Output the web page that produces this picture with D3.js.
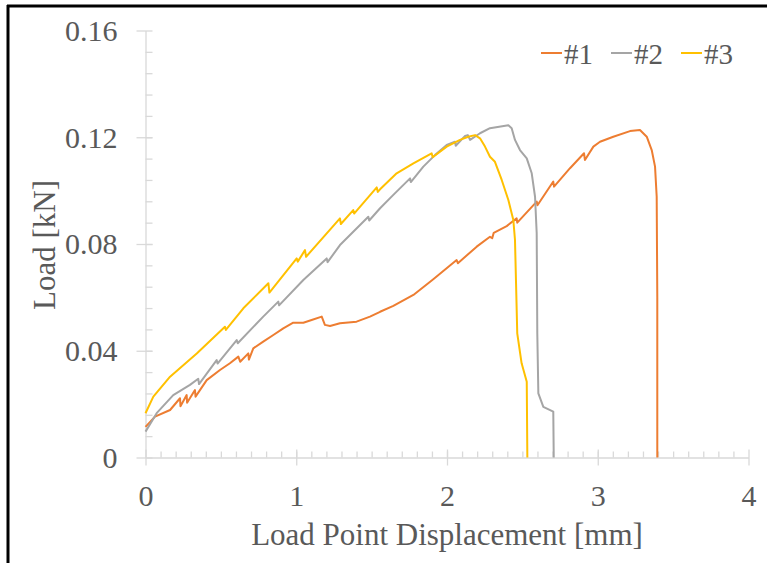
<!DOCTYPE html>
<html>
<head>
<meta charset="utf-8">
<script src="https://cdn.jsdelivr.net/npm/d3@7"></script>
<style>
  body { margin: 0; background: #fff; }
  text { font-family: "Liberation Serif", "Times New Roman", serif; fill: #595959; }
</style>
</head>
<body>
<script>
// load vs. displacement
var series1 = [[0,0.0115],[0.063,0.0153],[0.163,0.0178],[0.229,0.0222],[0.232,0.0192],[0.273,0.0234],[0.276,0.0205],
  [0.328,0.0253],[0.332,0.0228],[0.406,0.029],[0.494,0.0328],[0.56,0.0353],[0.616,0.0378],[0.628,0.0359],[0.682,0.039],
  [0.686,0.0367],[0.715,0.0409],[0.781,0.0434],[0.848,0.0459],[0.914,0.0484],[0.98,0.0505],[1.047,0.0505],[1.102,0.0515],
  [1.169,0.0528],[1.19,0.0497],[1.224,0.0493],[1.29,0.0503],[1.40,0.0509],[1.489,0.0528],[1.556,0.0546],[1.644,0.0568],
  [1.777,0.0609],[1.909,0.0668],[2.064,0.074],[2.072,0.0728],[2.197,0.079],[2.285,0.0827],[2.3,0.0822],[2.31,0.0842],
  [2.396,0.0867],[2.462,0.0896],[2.466,0.0880],[2.595,0.0959],[2.6,0.0945],[2.705,0.1034],[2.71,0.1015],[2.816,0.1084],
  [2.909,0.114],[2.915,0.1115],[2.971,0.1165],[3.015,0.1183],[3.103,0.1202],[3.214,0.1223],[3.28,0.1227],[3.325,0.1202],
  [3.358,0.1152],[3.38,0.109],[3.391,0.0977],[3.395,0.06],[3.395,0]];

var series2 = [[0,0.0097],[0.074,0.0166],[0.184,0.0234],[0.295,0.0272],[0.35,0.0295],[0.355,0.0275],[0.472,0.0365],
  [0.478,0.0352],[0.605,0.044],[0.612,0.0428],[0.781,0.0528],[0.881,0.0584],[0.886,0.057],[1.047,0.0665],[1.202,0.0746],
  [1.208,0.0732],[1.29,0.0796],[1.478,0.0902],[1.484,0.0888],[1.556,0.0934],[1.644,0.0984],[1.755,0.1046],[1.76,0.1032],
  [1.843,0.109],[1.92,0.1133],[1.998,0.1171],[2.053,0.1183],[2.058,0.1168],[2.12,0.1205],[2.138,0.1208],[2.153,0.119],
  [2.219,0.1215],[2.285,0.1234],[2.407,0.1245],[2.429,0.1234],[2.451,0.119],[2.484,0.1152],[2.529,0.1121],[2.562,0.1065],
  [2.584,0.0977],[2.595,0.084],[2.599,0.0465],[2.606,0.024],[2.639,0.019],[2.705,0.0172],[2.708,0]];

var series3 = [[0,0.0166],[0.052,0.0228],[0.163,0.0303],[0.34,0.039],[0.527,0.049],[0.533,0.0478],[0.649,0.0559],
  [0.815,0.0653],[0.822,0.0618],[1.003,0.0746],[1.01,0.0734],[1.058,0.0777],[1.065,0.0752],[1.29,0.0896],[1.296,0.0875],
  [1.378,0.0927],[1.384,0.0914],[1.534,0.1012],[1.541,0.0995],[1.556,0.1005],[1.666,0.1065],[1.777,0.1102],[1.898,0.114],
  [1.905,0.1125],[1.998,0.1165],[2.086,0.119],[2.141,0.1202],[2.186,0.1208],[2.219,0.1196],[2.252,0.1165],[2.285,0.1127],
  [2.318,0.1108],[2.363,0.104],[2.407,0.0965],[2.44,0.089],[2.451,0.0815],[2.458,0.0653],[2.466,0.0465],[2.495,0.0353],
  [2.529,0.0284],[2.533,0]];

var seriesNames = ["#1", "#2", "#3"];
var seriesColors = ["#ED7D31", "#A5A5A5", "#FFC000"];
var xTicks = [0, 1, 2, 3, 4];
var yTicks = [0, 0.04, 0.08, 0.12, 0.16];

var width = 767, height = 563;

var svg = d3.select("body").append("svg")
    .attr("width", width)
    .attr("height", height);

// black frame on the left / top edge
svg.append("line").attr("x1", 8).attr("x2", 8).attr("y1", 5).attr("y2", height)
    .attr("stroke", "#000").attr("stroke-width", 3);
svg.append("line").attr("x1", 7).attr("x2", width).attr("y1", 6).attr("y2", 6)
    .attr("stroke", "#000").attr("stroke-width", 3);

var x = d3.scaleLinear().domain([0, 4]).range([145.5, 748.5]);
var y = d3.scaleLinear().domain([0, 0.16]).range([457.5, 30.5]);

var axisColor = "#D9D9D9";

// minor ticks
svg.append("g")
    .attr("transform", "translate(0," + y(0) + ")")
    .call(d3.axisBottom(x).tickValues(d3.range(1, 40).map(function(i) { return i / 10; })).tickSize(-6).tickFormat(""))
    .call(function(g) { g.select(".domain").remove(); g.selectAll("line").attr("stroke", axisColor); });
svg.append("g")
    .attr("transform", "translate(" + x(0) + ",0)")
    .call(d3.axisLeft(y).tickValues(d3.range(1, 20).map(function(i) { return i * 0.008; })).tickSize(-7).tickFormat(""))
    .call(function(g) { g.select(".domain").remove(); g.selectAll("line").attr("stroke", axisColor); });

// major ticks + labels
var xAxis = svg.append("g")
    .attr("transform", "translate(0," + y(0) + ")")
    .call(d3.axisBottom(x).tickValues(xTicks).tickSizeOuter(0).tickFormat(d3.format("d")));
xAxis.selectAll(".tick line").attr("y1", -8).attr("y2", 8);
xAxis.selectAll(".tick text").attr("y", 48).attr("dy", 0).style("font-size", "30px");

var yAxis = svg.append("g")
    .attr("transform", "translate(" + x(0) + ",0)")
    .call(d3.axisLeft(y).tickValues(yTicks).tickSizeOuter(0)
        .tickFormat(function(d) { return d === 0 ? "0" : d3.format(".2f")(d); }));
yAxis.selectAll(".tick line").attr("x1", -9).attr("x2", 7);
yAxis.selectAll(".tick text").attr("x", -28).attr("dy", "0.33em").style("font-size", "30px");

svg.selectAll(".domain").attr("stroke", axisColor).attr("stroke-width", 1.3);
svg.selectAll(".tick line").attr("stroke", axisColor).attr("stroke-width", 1.3);
svg.selectAll(".tick text").style("font-family", "'Liberation Serif', serif").attr("fill", "#595959");

// lines
var line = d3.line()
    .x(function(d) { return x(d[0]); })
    .y(function(d) { return y(d[1]); });

[series1, series2, series3].forEach(function(s, i) {
    svg.append("path")
        .datum(s)
        .attr("fill", "none")
        .attr("stroke", seriesColors[i])
        .attr("stroke-width", 2)
        .attr("stroke-linejoin", "round")
        .attr("d", line);
});

// axis titles
svg.append("text")
    .attr("x", (x(0) + x(4)) / 2)
    .attr("y", 545)
    .attr("text-anchor", "middle")
    .style("font-size", "31px")
    .text("Load Point Displacement [mm]");

svg.append("text")
    .attr("transform", "translate(55,245) rotate(-90)")
    .attr("text-anchor", "middle")
    .style("font-size", "31px")
    .text("Load [kN]");

// legend
var legendX = [541, 611, 681];
var legend = svg.selectAll(".legend")
    .data(seriesNames)
    .enter().append("g")
    .attr("class", "legend")
    .attr("transform", function(d, i) { return "translate(" + legendX[i] + ",53)"; });
legend.append("line")
    .attr("x1", 0).attr("x2", 21)
    .attr("stroke", function(d, i) { return seriesColors[i]; })
    .attr("stroke-width", 2);
legend.append("text")
    .attr("x", 23)
    .attr("y", 11)
    .style("font-size", "29px")
    .text(function(d) { return d; });
</script>
</body>
</html>
